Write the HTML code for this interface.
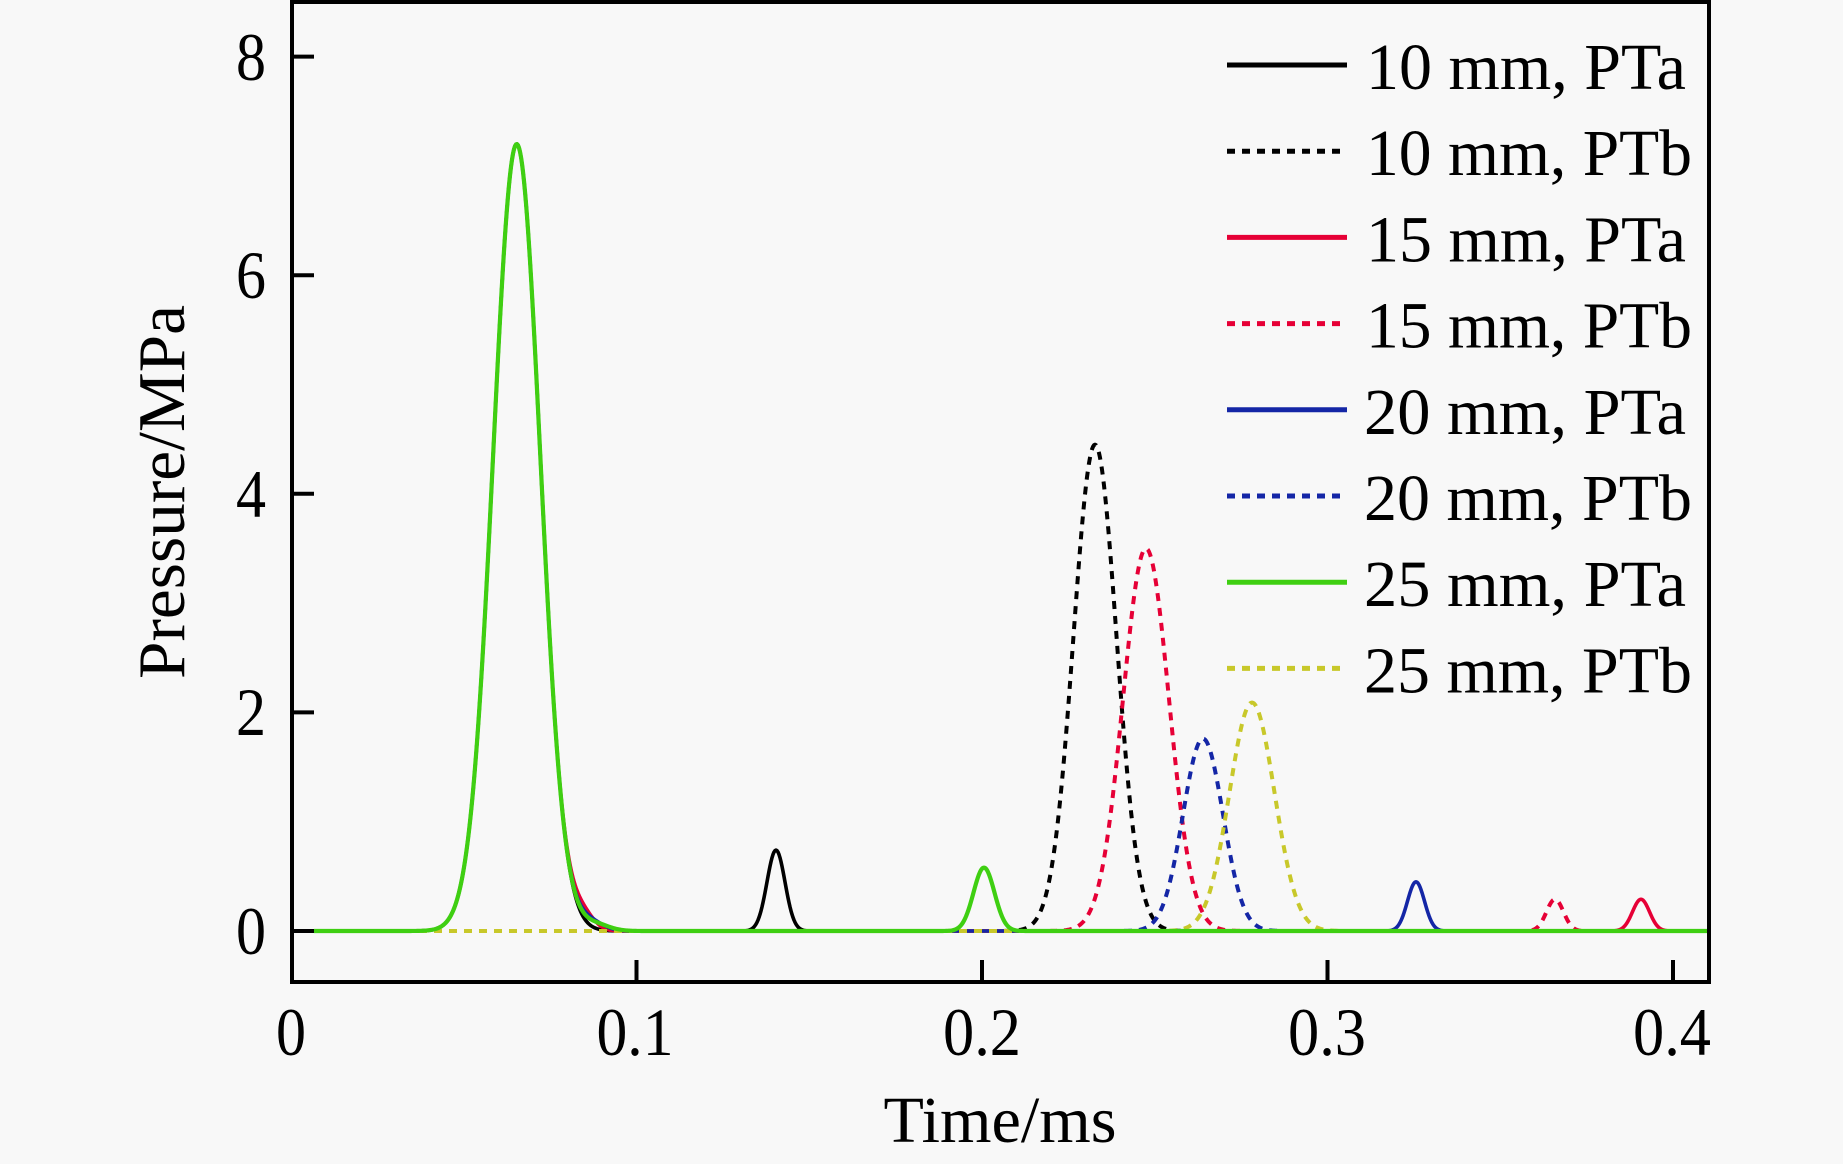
<!DOCTYPE html>
<html><head><meta charset="utf-8"><style>
html,body{margin:0;padding:0;background:#f8f8f8;}
svg{display:block;}
text{font-family:"Liberation Serif","Times New Roman",serif;fill:#000;}
</style></head><body>
<svg id="s" width="1843" height="1164" viewBox="0 0 1843 1164" xmlns="http://www.w3.org/2000/svg">
<rect x="0" y="0" width="1843" height="1164" fill="#f8f8f8"/>
<g id="data" fill="none" stroke-linejoin="round"></g>
<!-- axes frame -->
<rect x="292" y="2" width="1417" height="980" fill="none" stroke="#000" stroke-width="4"/>
<!-- ticks -->
<g stroke="#000" stroke-width="4">
<line x1="292" y1="931" x2="314" y2="931"/>
<line x1="292" y1="712.4" x2="314" y2="712.4"/>
<line x1="292" y1="493.8" x2="314" y2="493.8"/>
<line x1="292" y1="275.2" x2="314" y2="275.2"/>
<line x1="292" y1="56.6" x2="314" y2="56.6"/>
<line x1="636.5" y1="982" x2="636.5" y2="960"/>
<line x1="982" y1="982" x2="982" y2="960"/>
<line x1="1327.5" y1="982" x2="1327.5" y2="960"/>
<line x1="1673" y1="982" x2="1673" y2="960"/>
</g>
<g font-size="68" text-anchor="end">
<text x="266" y="954" textLength="30" lengthAdjust="spacingAndGlyphs">0</text>
<text x="266" y="735" textLength="30" lengthAdjust="spacingAndGlyphs">2</text>
<text x="266" y="517" textLength="30" lengthAdjust="spacingAndGlyphs">4</text>
<text x="266" y="298" textLength="30" lengthAdjust="spacingAndGlyphs">6</text>
<text x="266" y="80" textLength="30" lengthAdjust="spacingAndGlyphs">8</text>
</g>
<g font-size="68" text-anchor="middle">
<text x="291" y="1055" textLength="30" lengthAdjust="spacingAndGlyphs">0</text>
<text x="635" y="1055" textLength="77" lengthAdjust="spacingAndGlyphs">0.1</text>
<text x="982" y="1055" textLength="78" lengthAdjust="spacingAndGlyphs">0.2</text>
<text x="1327" y="1055" textLength="78" lengthAdjust="spacingAndGlyphs">0.3</text>
<text x="1672" y="1055" textLength="78" lengthAdjust="spacingAndGlyphs">0.4</text>
</g>
<text x="1000" y="1142" font-size="66" text-anchor="middle" textLength="233" lengthAdjust="spacingAndGlyphs">Time/ms</text>
<text transform="translate(184,492) rotate(-90)" font-size="67" text-anchor="middle" textLength="374" lengthAdjust="spacingAndGlyphs">Pressure/MPa</text>
<!-- legend -->
<g stroke-width="5">
<line x1="1227" y1="65" x2="1347" y2="65" stroke="#000"/>
<line x1="1227" y1="151.2" x2="1347" y2="151.2" stroke="#000" stroke-dasharray="8 7"/>
<line x1="1227" y1="237.4" x2="1347" y2="237.4" stroke="#e60036"/>
<line x1="1227" y1="323.6" x2="1347" y2="323.6" stroke="#e60036" stroke-dasharray="8 7"/>
<line x1="1227" y1="409.8" x2="1347" y2="409.8" stroke="#1426a6"/>
<line x1="1227" y1="496" x2="1347" y2="496" stroke="#1426a6" stroke-dasharray="8 7"/>
<line x1="1227" y1="582.2" x2="1347" y2="582.2" stroke="#3fcf12"/>
<line x1="1227" y1="668.4" x2="1347" y2="668.4" stroke="#c8c82a" stroke-dasharray="8 7"/>
</g>
<g font-size="66">
<text x="1366" y="89" textLength="320" lengthAdjust="spacingAndGlyphs">10 mm, PTa</text>
<text x="1366" y="175.2" textLength="326" lengthAdjust="spacingAndGlyphs">10 mm, PTb</text>
<text x="1366" y="261.4" textLength="320" lengthAdjust="spacingAndGlyphs">15 mm, PTa</text>
<text x="1366" y="347.6" textLength="326" lengthAdjust="spacingAndGlyphs">15 mm, PTb</text>
<text x="1364" y="433.8" textLength="322" lengthAdjust="spacingAndGlyphs">20 mm, PTa</text>
<text x="1364" y="520" textLength="328" lengthAdjust="spacingAndGlyphs">20 mm, PTb</text>
<text x="1364" y="606.2" textLength="322" lengthAdjust="spacingAndGlyphs">25 mm, PTa</text>
<text x="1364" y="692.4" textLength="328" lengthAdjust="spacingAndGlyphs">25 mm, PTb</text>
</g>
</svg>
<script>
(function(){
  var NS="http://www.w3.org/2000/svg";
  var g=document.getElementById("data");
  function Y(p){return 931-p*109.3;}
  function path(peaks){
    var d="";
    for(var x=314;x<=1707;x+=1){
      var p=0;
      for(var i=0;i<peaks.length;i++){
        var k=peaks[i];var u=(x-k[0])/k[2];
        p+=k[1]*Math.exp(-0.5*u*u);
      }
      d+=(x===314?"M":"L")+x+" "+Y(p).toFixed(2)+" ";
    }
    return d;
  }
  var big=[516.7,7.2,23.5];
  var series=[
    {c:"#000000",w:3.6,dash:null,pk:[big,[776,0.74,9]]},
    {c:"#e60036",w:3.6,dash:null,pk:[big,[1641,0.29,8.5],[583,0.12,11]]},
    {c:"#1426a6",w:3.6,dash:null,pk:[big,[1416,0.45,8.5],[590,0.08,13]]},
    {c:"#000000",w:4,dash:"8 7",pk:[[1095,4.45,21.5]]},
    {c:"#e60036",w:4,dash:"8 7",pk:[[1146,3.5,23],[1555,0.29,8.5]]},
    {c:"#1426a6",w:4,dash:"8 7",pk:[[1203,1.76,20]]},
    {c:"#c8c82a",w:4,dash:"8 7",pk:[[1252,2.09,22.5]]},
    {c:"#3fcf12",w:4.2,dash:null,pk:[big,[984,0.58,10.5],[595,0.06,14]]}
  ];
  for(var i=0;i<series.length;i++){
    var s=series[i];
    var el=document.createElementNS(NS,"path");
    el.setAttribute("d",path(s.pk));
    el.setAttribute("stroke",s.c);
    el.setAttribute("stroke-width",s.w);
    if(s.dash) el.setAttribute("stroke-dasharray",s.dash);
    g.appendChild(el);
  }
})();
</script>
</body></html>
